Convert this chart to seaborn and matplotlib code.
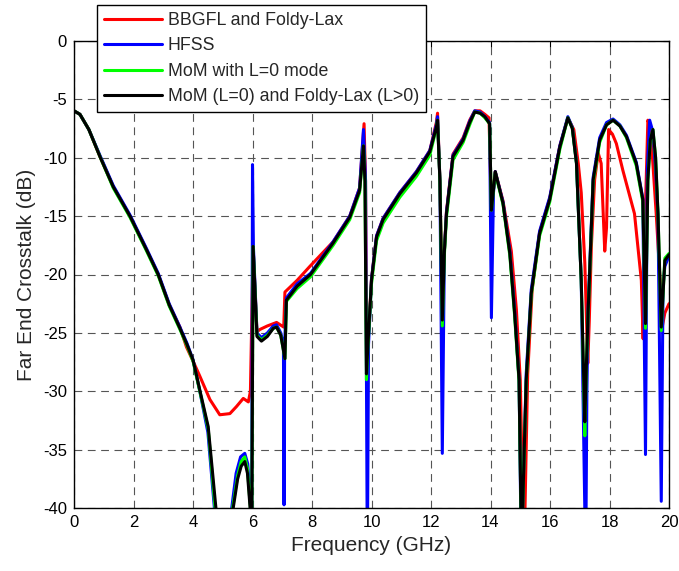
import matplotlib
matplotlib.use("Agg")
import matplotlib.pyplot as plt
import seaborn as sns
import pandas as pd

# ---------------- data ----------------
labels = ["BBGFL and Foldy-Lax", "HFSS", "MoM with L=0 mode", "MoM (L=0) and Foldy-Lax (L>0)"]
colors = ["#ff0000", "#0000ff", "#00ff00", "#000000"]

black_f = [0.0, 0.2, 0.5, 0.87, 1.32, 1.88, 2.44, 2.83, 3.2, 3.56, 3.8, 4.0, 4.23, 4.51, 4.79, 4.85,
           5.3, 5.35, 5.5, 5.62, 5.74, 5.83, 5.92, 5.97, 6.02, 6.15, 6.3, 6.5, 6.7, 6.81, 6.95, 7.09,
           7.14, 7.5, 7.95, 8.71, 9.27, 9.6, 9.73, 9.78, 9.83, 9.88, 10.0, 10.17, 10.39, 10.95, 11.51,
           11.96, 12.18, 12.22, 12.3, 12.38, 12.45, 12.52, 12.74, 13.08, 13.3, 13.47, 13.65, 13.81,
           13.97, 14.03, 14.16, 14.42, 14.65, 14.81, 14.96, 15.05, 15.08, 15.2, 15.37, 15.65, 15.99,
           16.33, 16.6, 16.75, 16.89, 17.05, 17.17, 17.22, 17.28, 17.45, 17.67, 17.9, 18.12, 18.35,
           18.57, 18.9, 19.12, 19.21, 19.29, 19.37, 19.46, 19.55, 19.63, 19.74, 19.86, 20.0]
black_db = [-6.0, -6.3, -7.6, -9.9, -12.5, -15.0, -17.9, -20.0, -22.6, -24.6, -26.0, -27.3, -29.9, -33.0, -40.5, -45,
            -45, -40.0, -37.5, -36.4, -36.0, -37.0, -40.0, -45, -17.6, -25.3, -25.7, -25.3, -24.6, -24.5, -25.2, -27.2,
            -22.2, -21.0, -20.0, -17.3, -15.1, -12.8, -9.0, -12.0, -28.5, -26.0, -20.5, -16.8, -15.3, -13.1, -11.3,
            -9.5, -7.4, -6.8, -12.0, -23.9, -18.0, -14.8, -9.9, -8.5, -7.0, -6.1, -6.2, -6.5,
            -7.1, -14.5, -11.2, -13.9, -18.2, -23.3, -29.0, -45, -40.0, -29.0, -21.6, -16.5, -13.6,
            -9.1, -6.6, -7.5, -10.5, -20.5, -32.6, -28.0, -23.3, -11.9, -8.5, -7.2, -6.8, -7.3,
            -8.2, -10.5, -13.6, -24.2, -11.9, -8.5, -7.6, -10.0, -14.8, -24.5, -18.8, -18.3]

green_f = [0.0, 0.2, 0.5, 0.87, 1.32, 1.88, 2.44, 2.83, 3.2, 3.56, 3.8, 4.0, 4.23, 4.51, 4.76, 4.82,
           5.28, 5.33, 5.5, 5.62, 5.74, 5.83, 5.93, 5.97, 6.02, 6.15, 6.3, 6.5, 6.7, 6.81, 6.95, 7.09,
           7.14, 7.5, 7.95, 8.71, 9.27, 9.6, 9.73, 9.78, 9.83, 9.88, 10.0, 10.17, 10.39, 10.95, 11.51,
           11.96, 12.18, 12.22, 12.3, 12.38, 12.45, 12.52, 12.74, 13.08, 13.3, 13.47, 13.65, 13.81,
           13.97, 14.03, 14.16, 14.42, 14.65, 14.81, 14.96, 15.05, 15.08, 15.2, 15.37, 15.65, 15.99,
           16.33, 16.6, 16.75, 16.89, 17.05, 17.17, 17.22, 17.28, 17.45, 17.67, 17.9, 18.12, 18.35,
           18.57, 18.9, 19.12, 19.21, 19.29, 19.37, 19.46, 19.55, 19.63, 19.74, 19.86, 20.0]
green_db = [-6.0, -6.3, -7.6, -9.9, -12.6, -15.1, -18.0, -20.1, -22.7, -24.7, -26.1, -27.4, -30.0, -33.2, -40.5, -45,
            -45, -40.0, -37.2, -36.0, -35.6, -36.6, -40.0, -45, -17.6, -25.2, -25.6, -25.2, -24.6, -24.5, -25.2, -27.2,
            -22.3, -21.2, -20.2, -17.5, -15.3, -13.0, -9.0, -12.0, -29.0, -26.2, -20.8, -17.1, -15.6, -13.4, -11.6,
            -9.8, -7.5, -6.8, -12.0, -24.4, -18.3, -15.1, -10.2, -8.7, -7.2, -6.1, -6.2, -6.6,
            -7.1, -14.5, -11.3, -14.0, -18.4, -23.5, -29.2, -45, -40.0, -29.2, -21.8, -16.7, -13.8,
            -9.3, -6.6, -7.5, -10.5, -20.5, -33.8, -28.2, -23.5, -12.1, -8.7, -7.2, -6.8, -7.3,
            -8.3, -10.7, -13.8, -24.6, -12.0, -8.6, -7.6, -10.0, -14.8, -24.8, -18.6, -18.2]

blue_f = [0.0, 0.2, 0.5, 0.87, 1.32, 1.88, 2.44, 2.83, 3.2, 3.56, 3.8, 4.0, 4.23, 4.5, 4.72, 4.78,
          5.25, 5.3, 5.45, 5.6, 5.74, 5.84, 5.94, 5.97, 6.0, 6.03, 6.15, 6.3, 6.5, 6.7, 6.81, 6.95,
          7.04, 7.06, 7.08, 7.14, 7.5, 7.95, 8.71, 9.27, 9.6, 9.73, 9.8, 9.86, 9.9, 10.0, 10.17, 10.39,
          10.95, 11.51, 11.96, 12.18, 12.22, 12.3, 12.38, 12.45, 12.52, 12.74, 13.08, 13.3, 13.47, 13.65,
          13.81, 13.97, 14.03, 14.1, 14.16, 14.42, 14.65, 14.81, 14.96, 15.04, 15.08, 15.2, 15.37, 15.65,
          15.99, 16.33, 16.6, 16.75, 16.89, 17.05, 17.2, 17.24, 17.28, 17.45, 17.67, 17.9, 18.12, 18.35,
          18.57, 18.9, 19.12, 19.21, 19.27, 19.35, 19.46, 19.55, 19.63, 19.74, 19.8, 19.86, 20.0]
blue_db = [-6.0, -6.3, -7.6, -9.8, -12.4, -14.9, -17.8, -19.9, -22.5, -24.5, -25.9, -27.3, -30.0, -33.5, -40.0, -45,
           -45, -40.0, -37.0, -35.6, -35.3, -36.2, -40.0, -45, -10.6, -17.6, -25.0, -25.4, -25.0, -24.4, -24.3, -25.0,
           -26.0, -39.7, -26.0, -22.0, -20.8, -19.9, -17.2, -15.0, -12.6, -7.6, -12.0, -45, -26.0, -20.4, -16.7, -15.2,
           -13.0, -11.2, -9.4, -7.2, -6.5, -12.0, -35.3, -18.0, -14.7, -9.8, -8.4, -6.9, -6.0, -6.1,
           -6.5, -7.0, -23.7, -13.0, -11.2, -13.8, -18.0, -23.0, -29.0, -45, -40.0, -28.5, -21.3, -16.3,
           -13.4, -9.0, -6.5, -7.4, -10.4, -20.5, -45, -30.0, -23.0, -11.7, -8.3, -7.0, -6.7, -7.2,
           -8.1, -10.4, -13.5, -35.4, -11.0, -6.8, -7.8, -11.0, -15.0, -39.4, -21.0, -19.3, -18.4]

red_f = [0.0, 0.2, 0.5, 0.87, 1.32, 1.88, 2.44, 2.83, 3.2, 3.56, 3.78, 4.0, 4.23, 4.57, 4.9, 5.24,
         5.46, 5.69, 5.86, 5.93, 6.02, 6.15, 6.25, 6.5, 6.81, 7.05, 7.09, 7.5, 7.93, 8.71, 9.27, 9.6,
         9.75, 9.8, 9.84, 9.88, 10.0, 10.17, 10.39, 10.95, 11.51, 11.96, 12.18, 12.22, 12.3, 12.38, 12.45,
         12.52, 12.74, 13.08, 13.3, 13.47, 13.65, 13.81, 13.95, 14.03, 14.16, 14.42, 14.7, 14.87, 15.0,
         15.13, 15.16, 15.25, 15.4, 15.65, 15.99, 16.33, 16.6, 16.8, 16.95, 17.05, 17.17, 17.27, 17.32,
         17.39, 17.5, 17.62, 17.72, 17.84, 17.9, 17.97, 18.1, 18.23, 18.45, 18.84, 19.07, 19.13, 19.2,
         19.29, 19.38, 19.57, 19.7, 19.75, 19.86, 20.0]
red_db = [-6.0, -6.3, -7.6, -9.9, -12.5, -15.0, -17.9, -20.0, -22.6, -24.5, -26.2, -27.4, -28.7, -30.7, -32.0, -31.9,
          -31.3, -30.6, -30.9, -30.0, -17.6, -24.9, -24.7, -24.4, -24.1, -24.5, -21.5, -20.5, -19.3, -17.2, -15.0, -12.6,
          -7.1, -12.0, -28.0, -26.0, -20.4, -16.7, -15.2, -13.0, -11.2, -9.4, -7.0, -6.2, -12.0, -24.5, -18.0,
          -14.6, -9.7, -8.3, -6.8, -6.0, -6.0, -6.3, -6.6, -14.5, -11.2, -13.7, -18.0, -23.0, -29.0,
          -45, -40.0, -28.5, -21.3, -16.4, -13.5, -9.0, -6.6, -7.6, -10.5, -13.0, -19.0, -27.6, -24.0,
          -17.6, -11.9, -9.6, -10.5, -18.0, -16.0, -7.6, -8.0, -8.8, -11.1, -14.8, -20.5, -25.5, -15.0,
          -6.8, -7.5, -14.8, -20.5, -24.8, -23.3, -22.5]

xticks = [0, 2, 4, 6, 8, 10, 12, 14, 16, 18, 20]
yticks = [-40, -35, -30, -25, -20, -15, -10, -5, 0]

# ---------------- figure ----------------
sns.set_style("white")
plt.rcParams["font.family"] = ["Liberation Sans", "DejaVu Sans"]

fig = plt.figure(figsize=(6.79, 5.71), dpi=100)
ax = fig.add_axes([74 / 679, 1 - 508.3 / 571, (669 - 74) / 679, (508.3 - 40.7) / 571])

series = [(red_f, red_db), (blue_f, blue_db), (green_f, green_db), (black_f, black_db)]
for (fx, fy), lab, col in zip(series, labels, colors):
    df = pd.DataFrame({"f": fx, "db": fy})
    sns.lineplot(data=df, x="f", y="db", ax=ax, color=col, linewidth=2.2,
                 sort=False, estimator=None, label=lab)

ax.set_xlim(0, 20)
ax.set_ylim(-40, 0)
ax.set_xticks(xticks)
ax.set_yticks(yticks)
ax.set_xticklabels([str(t) for t in xticks])
ax.set_yticklabels([str(t) for t in yticks])
ax.tick_params(axis="both", direction="in", length=4, width=0.8, labelsize=12,
               top=True, right=True, pad=5, colors="black")
ax.grid(True, color="#555555", linestyle=(0, (7, 5)), linewidth=0.8)
for s in ax.spines.values():
    s.set_color("black")
    s.set_linewidth(1.0)

ax.set_xlabel("Frequency (GHz)", fontsize=15, labelpad=4)
ax.set_ylabel("Far End Crosstalk (dB)", fontsize=15, labelpad=5)

leg = ax.legend(loc="upper left", bbox_to_anchor=(97 / 679, 1 - 5 / 571),
                bbox_transform=fig.transFigure, borderaxespad=0, fancybox=False,
                framealpha=1, edgecolor="black", fontsize=12.8, handlelength=3.25,
                handletextpad=0.34, labelspacing=0.47, borderpad=0.4)
leg.get_frame().set_linewidth(1.0)
for line in leg.get_lines():
    line.set_linewidth(2.2)

fig.savefig("out.png", dpi=100)
